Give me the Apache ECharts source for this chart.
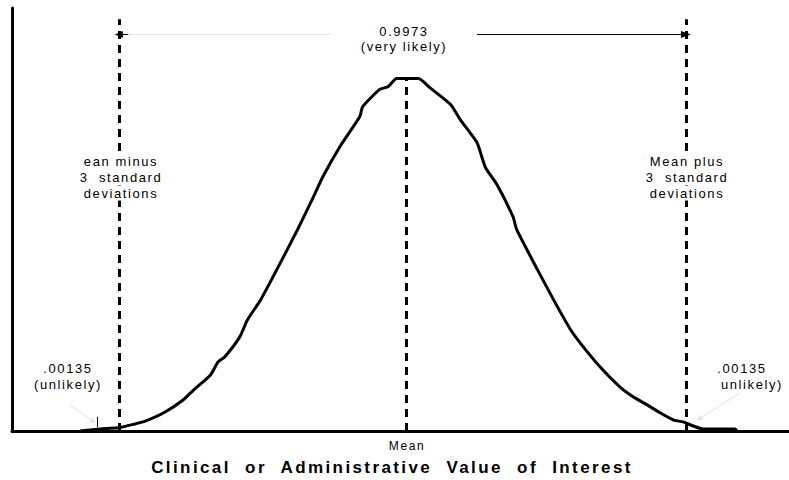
<!DOCTYPE html>
<html>
<head>
<meta charset="utf-8">
<script src="https://cdn.jsdelivr.net/npm/echarts@6/dist/echarts.min.js"></script>
<style>
  html, body { margin: 0; padding: 0; background: #fff; }
  #chart { width: 789px; height: 480px; }
  /* the original figure uses widely spaced lettering */
  #chart text { letter-spacing: 1.6px; white-space: pre; }
  #chart text[style*="bold"], #chart text[font-weight="bold"] { letter-spacing: 2.4px; }
</style>
</head>
<body>
<div id="chart"></div>
<script>
// curve: x in standard deviations from the mean, y relative to the peak
const curveX = [-3.45, -3.24, -3.05, -2.87, -2.76, -2.55, -2.36, -2.25, -2.07, -1.99, -1.92, -1.76, -1.68, -1.54,
  -1.37, -1.15, -0.98, -0.88, -0.70, -0.49, -0.46, -0.28, -0.19, -0.10, 0.13, 0.25, 0.47, 0.57, 0.75, 0.80,
  0.84, 0.96, 1.13, 1.17, 1.39, 1.56, 1.74, 1.84, 2.05, 2.26, 2.40, 2.55, 2.69, 2.83, 2.93, 3.01, 3.14, 3.48, 3.50]
const curveY = [0, 0.006, 0.009, 0.020, 0.028, 0.054, 0.088, 0.116, 0.159, 0.196, 0.210, 0.267, 0.315, 0.372,
  0.457, 0.571, 0.665, 0.722, 0.807, 0.892, 0.920, 0.969, 0.977, 1.0, 1.0, 0.974, 0.926, 0.884, 0.818, 0.778,
  0.747, 0.699, 0.608, 0.571, 0.457, 0.372, 0.287, 0.250, 0.182, 0.125, 0.097, 0.074, 0.051, 0.031, 0.026,
  0.017, 0.006, 0.006, 0]

// mean minus 3 SD, mean, mean plus 3 SD
const refLines = [-3.04, 0, 2.96]
const refTops = [1.168, 1.0, 1.168]
const arrowY = 1.125
const centralProb = '0.9973'
const tailProb = '.00135'

const chart = echarts.init(document.getElementById('chart'), null, { renderer: 'svg' })

const faint = { color: '#e2e2e2', width: 1, type: 'solid' }
const thin = { color: '#000', width: 1, type: 'solid' }

const marks = refLines.map(function (x, i) {
  return [{ coord: [x, 0], lineStyle: { color: '#000', width: 3, type: [8, 6] } }, { coord: [x, refTops[i]] }]
})
// top double arrow, faint on the left, black on the right
marks.push([{ coord: [-2.94, arrowY], lineStyle: faint }, { coord: [-0.80, arrowY] }])
marks.push([{ coord: [-2.94, arrowY], lineStyle: thin }, { coord: [refLines[0], arrowY], symbol: 'triangle', symbolSize: [7, 8] }])
marks.push([{ coord: [0.75, arrowY], lineStyle: thin }, { coord: [refLines[2], arrowY], symbol: 'triangle', symbolSize: [7, 10] }])
// faint pointers from the tail labels
marks.push([{ coord: [-3.56, 0.074], lineStyle: faint }, { coord: [-3.29, 0.023], symbol: 'arrow', symbolSize: [5, 6] }])
marks.push([{ coord: [3.53, 0.108], lineStyle: faint }, { coord: [3.08, 0.031], symbol: 'arrow', symbolSize: [5, 6] }])
// small tick on the left tail
marks.push([{ coord: [-3.27, 0.011], lineStyle: thin }, { coord: [-3.27, 0.04] }])

const textStyle = function (text, x, y, size, weight, bg) {
  return {
    type: 'text', x: x, y: y, z: 100,
    style: {
      text: text, fill: '#000', font: (weight || 'normal') + ' ' + size + 'px "Liberation Sans", Arial, sans-serif',
      align: 'center', verticalAlign: 'middle',
      backgroundColor: bg ? '#fff' : null, padding: bg ? [1, 2] : 0
    }
  }
}

const option = {
  animation: false,
  grid: { left: 12, right: 0, top: 8, bottom: 49 },
  xAxis: {
    type: 'value', min: -4.17, max: 4.05,
    axisLine: { show: true, onZero: false, lineStyle: { color: '#000', width: 3 } },
    axisTick: { show: false }, axisLabel: { show: false }, splitLine: { show: false }
  },
  yAxis: {
    type: 'value', min: 0, max: 1.2,
    axisLine: { show: true, onZero: false, lineStyle: { color: '#000', width: 3 } },
    axisTick: { show: false }, axisLabel: { show: false }, splitLine: { show: false }
  },
  series: [{
    type: 'line',
    data: curveX.map(function (x, i) { return [x, curveY[i]] }),
    showSymbol: false,
    smooth: 0.2,
    lineStyle: { color: '#000', width: 3 },
    z: 3,
    markLine: {
      silent: true, symbol: 'none', animation: false,
      label: { show: false },
      data: marks
    }
  }],
  graphic: [
    textStyle(centralProb, 404, 31, 13),
    textStyle('(very likely)', 404, 46, 13),
    textStyle('ean minus', 121, 161, 13, 'normal', true),
    textStyle('3  standard', 121, 177, 13, 'normal', true),
    textStyle('deviations', 121, 193, 13, 'normal', true),
    textStyle('Mean plus', 687, 161, 13, 'normal', true),
    textStyle('3  standard', 687, 177, 13, 'normal', true),
    textStyle('deviations', 687, 193, 13, 'normal', true),
    textStyle(tailProb, 68, 368, 13),
    textStyle('(unlikely)', 68, 384, 13),
    textStyle(tailProb, 742, 368, 13),
    textStyle('unlikely)', 752, 384, 13),
    textStyle('Mean', 407, 446, 12),
    textStyle('Clinical  or  Administrative  Value  of  Interest', 392, 467, 17, 'bold')
  ]
}
chart.setOption(option)
</script>
</body>
</html>
